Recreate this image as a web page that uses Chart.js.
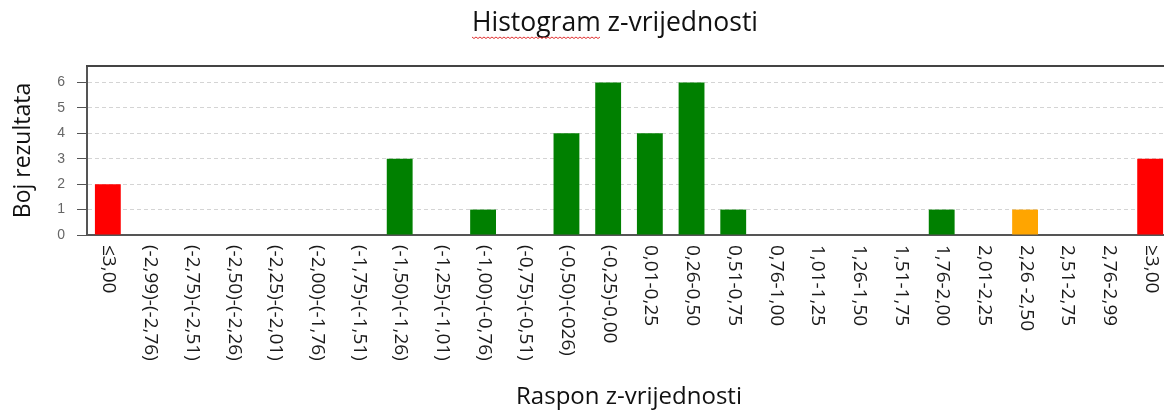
<!DOCTYPE html>
<html lang="hr">
<head>
    <meta charset="UTF-8">
    <title>Histogram z-vrijednosti</title>
    <script src="https://cdn.jsdelivr.net/npm/chart.js"></script>
    <style>
        body {
            margin: 0;
            background: #fff;
            overflow: hidden;
        }
        #wrap {
            width: 1171px;
            height: 412px;
            position: relative;
        }
    </style>
</head>
<body>
    <div id="wrap"><canvas id="zChart"></canvas></div>

    <script>
        // categories (z-score ranges) and counts
        const categories = [
            '≤3,00', '(-2,99)-(-2,76)', '(-2,75)-(-2,51)', '(-2,50)-(-2,26)', '(-2,25)-(-2,01)',
            '(-2,00)-(-1,76)', '(-1,75)-(-1,51)', '(-1,50)-(-1,26)', '(-1,25)-(-1,01)', '(-1,00)-(-0,76)',
            '(-0,75)-(-0,51)', '(-0,50)-(-026)', '(-0,25)-0,00', '0,01-0,25', '0,26-0,50',
            '0,51-0,75', '0,76-1,00', '1,01-1,25', '1,26-1,50', '1,51-1,75',
            '1,76-2,00', '2,01-2,25', '2,26 -2,50', '2,51-2,75', '2,76-2,99', '≥3,00'
        ];
        const counts = [2, 0, 0, 0, 0, 0, 0, 3, 0, 1, 0, 4, 6, 4, 6, 1, 0, 0, 0, 0, 1, 0, 1, 0, 0, 3];
        const yTicks = [0, 1, 2, 3, 4, 5, 6];

        // bar colour by zone: red outside |z|>=3, orange for the 2,26-2,50 bin, green otherwise
        const zone = ['red', 'green', 'green', 'green', 'green', 'green', 'green', 'green', 'green', 'green',
            'green', 'green', 'green', 'green', 'green', 'green', 'green', 'green', 'green', 'green',
            'green', 'green', 'orange', 'green', 'green', 'red'];
        const zoneColor = { red: '#ff0000', green: '#008000', orange: '#ffa500' };

        const TITLE = 'Histogram z-vrijednosti';

        // x labels are drawn rotated clockwise, reading top to bottom
        const xLabelsPlugin = {
            id: 'xLabels',
            afterDraw(chart) {
                const ctx = chart.ctx;
                const xs = chart.scales.x;
                ctx.save();
                ctx.font = '19px "Open Sans"';
                ctx.fillStyle = '#1a1a1a';
                ctx.textAlign = 'left';
                ctx.textBaseline = 'middle';
                categories.forEach((lab, i) => {
                    ctx.save();
                    ctx.translate(xs.getPixelForTick(i) + 1, xs.top + 10);
                    ctx.rotate(Math.PI / 2);
                    ctx.fillText(lab, 0, 0);
                    ctx.restore();
                });
                ctx.restore();
            }
        };

        // title (sits off-centre in the original), spell-check squiggle, top frame line
        const framePlugin = {
            id: 'frame',
            afterDraw(chart) {
                const { ctx, chartArea } = chart;
                ctx.save();
                ctx.strokeStyle = '#444';
                ctx.lineWidth = 2;
                ctx.beginPath();
                ctx.moveTo(chartArea.left - 1, chartArea.top);
                ctx.lineTo(chartArea.right, chartArea.top);
                ctx.stroke();

                const cx = 615, base = 31;
                ctx.font = '26.5px "Open Sans"';
                ctx.fillStyle = '#111';
                ctx.textAlign = 'center';
                ctx.textBaseline = 'alphabetic';
                ctx.fillText(TITLE, cx, base);

                const full = ctx.measureText(TITLE).width;
                const word = ctx.measureText('Histogram').width;
                const x0 = cx - full / 2;
                ctx.strokeStyle = '#e03030';
                ctx.lineWidth = 1;
                ctx.beginPath();
                for (let x = 0, k = 0; x <= word; x += 2, k++) {
                    const y = base + 6 + (k % 2 ? 1.5 : 0);
                    if (k === 0) ctx.moveTo(x0 + x, y); else ctx.lineTo(x0 + x, y);
                }
                ctx.stroke();
                ctx.restore();
            }
        };

        const ctx = document.getElementById('zChart').getContext('2d');
        new Chart(ctx, {
            type: 'bar',
            data: {
                labels: categories,
                datasets: [{
                    data: counts,
                    backgroundColor: zone.map(z => zoneColor[z]),
                    barPercentage: 0.62,
                    categoryPercentage: 1.0
                }]
            },
            options: {
                responsive: true,
                maintainAspectRatio: false,
                animation: false,
                layout: { padding: { top: 66, left: 0, right: 0, bottom: 0 } },
                plugins: {
                    legend: { display: false },
                    tooltip: { enabled: false },
                    title: { display: false }
                },
                scales: {
                    x: {
                        grid: { display: false },
                        border: { color: '#555', width: 2 },
                        ticks: { display: false },
                        title: {
                            display: true,
                            text: 'Raspon z-vrijednosti',
                            color: '#111',
                            font: { family: '"Open Sans"', size: 24, lineHeight: 1.2 },
                            padding: { top: 0, bottom: 0 }
                        },
                        afterFit(scale) { scale.height = 177; }
                    },
                    y: {
                        min: 0,
                        max: 6.65,
                        afterBuildTicks(scale) {
                            scale.ticks = yTicks.map(v => ({ value: v }));
                        },
                        ticks: {
                            color: '#666',
                            padding: 12,
                            font: { family: '"Liberation Sans"', size: 14 }
                        },
                        grid: {
                            color: '#d4d4d4',
                            tickColor: '#555',
                            tickLength: 10
                        },
                        border: { color: '#555', width: 2, dash: [4, 3] },
                        title: {
                            display: true,
                            text: 'Boj rezultata',
                            color: '#111',
                            font: { family: '"Open Sans"', size: 23, lineHeight: 1.2 },
                            padding: { top: 10, bottom: 0 }
                        },
                        afterFit(scale) { scale.width = 87; }
                    }
                }
            },
            plugins: [xLabelsPlugin, framePlugin]
        });
    </script>
</body>
</html>
